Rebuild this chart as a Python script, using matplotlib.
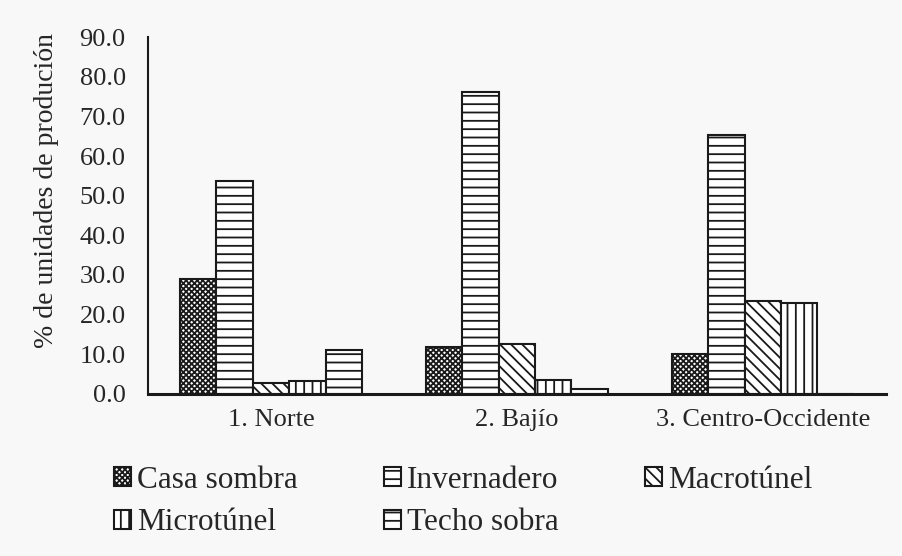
import numpy as np
import matplotlib
matplotlib.use("Agg")
import matplotlib.pyplot as plt

# datos
regiones = ["1. Norte", "2. Bajío", "3. Centro-Occidente"]
casa_sombra = [28.9, 11.7, 10.0]
invernadero = [53.7, 76.1, 65.2]
macrotunel = [2.6, 12.5, 23.4]
microtunel = [3.1, 3.4, 22.9]
techo_sobra = [11.0, 1.3, 0.0]

series = [casa_sombra, invernadero, macrotunel, microtunel, techo_sobra]
nombres = ["Casa sombra", "Invernadero", "Macrotúnel", "Microtúnel", "Techo sobra"]
tramas = ["xxxxxx", "--", "\\\\\\", "||", "--"]

plt.rcParams["font.family"] = ["Liberation Serif", "DejaVu Serif"]
plt.rcParams["hatch.linewidth"] = 1.3
plt.rcParams["hatch.color"] = "#1a1a1a"
texto = "#262626"
fondo = "#f8f8f8"

fig = plt.figure(figsize=(9.02, 5.56), dpi=100, facecolor=fondo)
ax = fig.add_axes([0.164, 0.292, 0.818, 0.641])
ax.set_facecolor(fondo)

x = np.arange(len(regiones))
ancho = 0.148
barras = []
for i, (vals, nom, tr) in enumerate(zip(series, nombres, tramas)):
    b = ax.bar(x + (i - 2) * ancho, vals, ancho, label=nom, hatch=tr,
               facecolor="white", edgecolor="#1a1a1a", linewidth=1.5)
    barras.append(b)

ax.set_xlim(-0.5, 2.5)
ax.set_ylim(0, 90)
ax.set_yticks(np.arange(0, 91, 10))
ax.set_yticklabels([f"{v:.1f}" for v in np.arange(0, 91, 10)])
ax.set_xticks(x)
ax.set_xticklabels(regiones)
ax.tick_params(axis="y", length=0, pad=16, labelsize=19, colors=texto)
ax.tick_params(axis="x", length=0, pad=11, labelsize=19, colors=texto)
ax.set_ylabel("% de unidades de produción", fontsize=20, color=texto)
ax.yaxis.set_label_coords(-0.120, 0.571)

for lado in ["top", "right"]:
    ax.spines[lado].set_visible(False)
ax.spines["left"].set_linewidth(1.5)
ax.spines["left"].set_color("#1a1a1a")
ax.spines["bottom"].set_linewidth(2.2)
ax.spines["bottom"].set_color("#1a1a1a")

# orden para que la leyenda salga por filas
orden = [0, 3, 1, 4, 2]
leg = fig.legend([barras[k] for k in orden], [nombres[k] for k in orden],
                 ncol=3, loc="upper left", bbox_to_anchor=(0.126, 0.162),
                 frameon=False, fontsize=22.5, handlelength=0.55, handleheight=0.55,
                 handletextpad=0.2, columnspacing=2.75, labelspacing=0.43,
                 borderaxespad=0, borderpad=0)
for t in leg.get_texts():
    t.set_color(texto)

fig.savefig("out.png", dpi=100, facecolor=fondo)
